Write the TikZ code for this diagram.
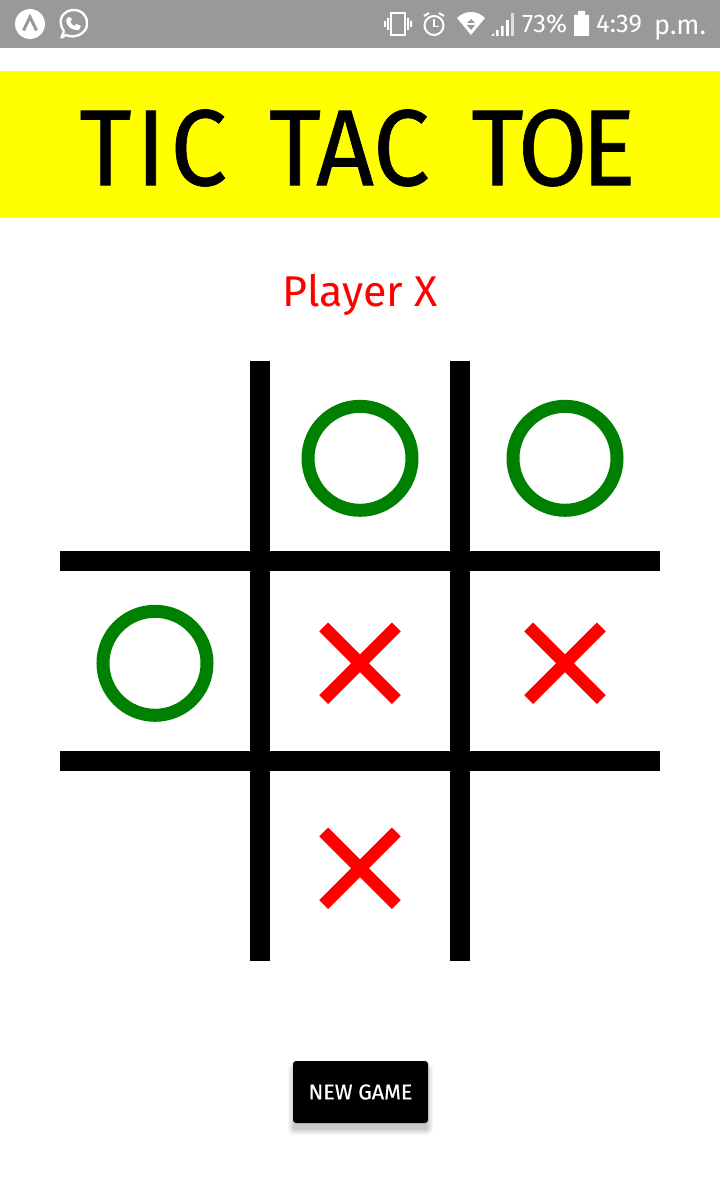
\documentclass[tikz,border=0pt]{standalone}
\usepackage{fontspec}
\usepackage{graphicx}
\setmainfont{Fira Sans}
\definecolor{barg}{HTML}{999999}
\definecolor{ogreen}{HTML}{008000}
\definecolor{ttyellow}{RGB}{255,255,0}
\definecolor{ttred}{RGB}{255,0,0}
\tikzset{
  gridline/.style={fill=black,draw=none},
  ring/.style={draw=ogreen,line width=13pt,fill=none},
  cross/.style={draw=ttred,line width=12.6pt},
  icon/.style={draw=white,line width=2pt,fill=none},
  solidicon/.style={fill=white,draw=none},
  stat/.style={text=white,inner sep=0pt,font=\fontsize{25.5}{25.5}\selectfont},
}
\begin{document}
\begin{tikzpicture}[x=1pt,y=-1pt]
\useasboundingbox (0,0) rectangle (720,1193);
\fill[white] (0,0) rectangle (720,1193);
% status bar
\fill[barg] (0,0) rectangle (720,48);
\fill[solidicon] (30,24) circle (15);
\draw[barg,line width=3pt] (23.5,30.5) -- (30,17) -- (36.5,30.5);
\draw[icon,line width=2.4pt,line join=round] (64,31) .. controls (55,18) and (66,9.5) .. (74,10) .. controls (83,10) and (88,18) .. (87,25) .. controls (86,34) and (74,39) .. (66,35) -- (61.5,37.5) -- (64,31);
\fill[solidicon] (67,18) .. controls (64,24) and (71,31) .. (79,30) -- (81,26) -- (76.5,24) -- (74.5,26) .. controls (72,25) and (71,23.5) .. (70.5,21.5) -- (72,19) -- (69.5,17) -- cycle;
% vibrate
\draw[icon] (391,13) rectangle (405,35);
\fill[solidicon] (387,18) rectangle (389,30) (384,21) rectangle (386,27) (407,18) rectangle (409,30) (410,21) rectangle (412,27);
% alarm
\draw[icon] (434,25.5) circle (9.5);
\draw[icon,line width=1.6pt] (434,19.5) -- (434,26.5) -- (439,26.5);
\draw[icon] (424,16) -- (429,13) (439,13) -- (444,16);
% wifi
\fill[solidicon] (457,18) .. controls (465,10) and (477,10) .. (485,18) -- (471,35) -- cycle;
\fill[barg] (471,19) -- (475,23) -- (467,23) -- cycle (471,30) -- (475,25) -- (467,25) -- cycle;
% signal
\fill[white] (491,36) -- (494,33) -- (494,36) -- cycle;
\fill[white] (496,30) rectangle (498.5,36) (501,26) rectangle (503.5,36);
\fill[white] (506,20) rectangle (508.5,36);
\fill[white!70!barg] (511,13) rectangle (514,36);
\node[stat,anchor=base west] (pct) at (522,33) {73\%};
% battery
\fill[solidicon] (574,15) rectangle (589,36) (578,11) rectangle (585,15);
\node[stat,anchor=base west] (clock) at (596,33) {4:39};
\node[stat,anchor=base west,font=\fontsize{27}{27}\selectfont] (ampm) at (654,35) {p.m.};
% title
\fill[ttyellow] (0,71) rectangle (720,218);
\node[inner sep=0pt,font=\fontsize{101}{101}\selectfont\addfontfeature{FakeBold=0.6}] (title) at (357.5,148) {\scalebox{1}[1.07]{\spaceskip=42pt T\kern4.5pt I\kern4.5pt C TAC T\kern-6pt O\kern-6pt E}};
\node[inner sep=0pt,text=ttred,font=\fontsize{43}{43}\selectfont] (player) at (360.5,295) {Player X};
% grid
\fill[gridline] (250,361) rectangle (270,961);
\fill[gridline] (450,361) rectangle (470,961);
\fill[gridline] (60,551) rectangle (660,571);
\fill[gridline] (60,751) rectangle (660,771);
% marks
\draw[ring] (360,458.3) circle (52);
\draw[ring] (565,458.3) circle (52);
\draw[ring] (155,663.3) circle (52);
\foreach \cx/\cy in {360/663.3,565/663.3,360/868.3}{
  \draw[cross] (\cx-36.3,\cy-36.3) -- (\cx+36.3,\cy+36.3) (\cx-36.3,\cy+36.3) -- (\cx+36.3,\cy-36.3);
}
% button shadow
\foreach \g in {7,6,5,4,3,2,1}{
  \fill[black,opacity=0.03,rounded corners=\g pt] (295-\g,1070-\g) rectangle (426+\g,1128+\g);
}
% button
\node[fill=black,rounded corners=3pt,minimum width=135pt,minimum height=62pt,inner sep=0pt,text=white,
  font=\fontsize{21.5}{21.5}\selectfont\addfontfeature{FakeBold=0.4}] (newgame) at (360.5,1092) {NEW GAME};
\end{tikzpicture}
\end{document}
